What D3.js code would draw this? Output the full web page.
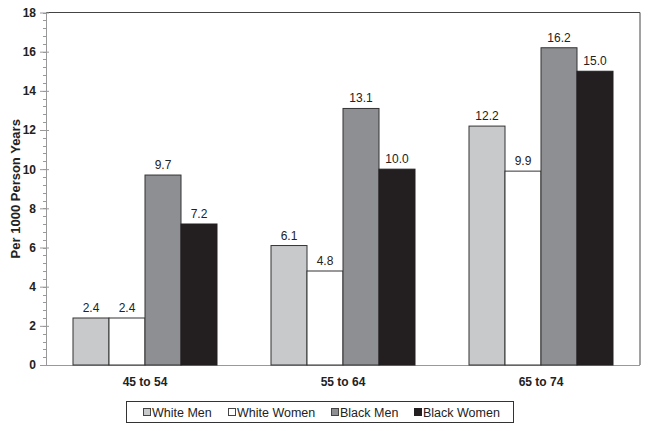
<!DOCTYPE html>
<html><head><meta charset="utf-8">
<script src="https://cdn.jsdelivr.net/npm/d3@7"></script>
<style>body{margin:0;background:#fff}svg{display:block;font-family:Arial,"Liberation Sans",sans-serif}</style>
</head><body><svg id="c" width="649" height="431"></svg>
<script>
const categories = ["45 to 54", "55 to 64", "65 to 74"];
const seriesNames = ["White Men", "White Women", "Black Men", "Black Women"];
const whiteMen = [2.4, 6.1, 12.2];
const whiteWomen = [2.4, 4.8, 9.9];
const blackMen = [9.7, 13.1, 16.2];
const blackWomen = [7.2, 10.0, 15.0];
const colors = ["#c8c9cb", "#ffffff", "#8e8f92", "#231f20"];
const yTicks = [0, 2, 4, 6, 8, 10, 12, 14, 16, 18];

const series = [whiteMen, whiteWomen, blackMen, blackWomen];
const svg = d3.select("#c");
const m = {l: 46, r: 9, t: 12.5, b: 66};
const W = 649, H = 431;
const x = d3.scaleBand().domain(categories).range([m.l, W - m.r]).paddingInner(0).paddingOuter(0);
const y = d3.scaleLinear().domain([0, 18]).range([H - m.b, m.t]);
const inner = d3.scaleBand().domain(seriesNames).range([0, x.bandwidth()]).paddingInner(0).paddingOuter(0.75);

// frame top and right
svg.append("path").attr("d", `M${m.l},${y(18)}H${W - m.r}V${y(0)}`).attr("fill","none").attr("stroke","#444").attr("stroke-width",1);

// minor ticks
const minor = d3.range(0, 18.001, 0.4);
svg.append("g").selectAll("line").data(minor).join("line")
  .attr("x1", m.l - 3).attr("x2", m.l).attr("y1", d => Math.round(y(d)) + 0.5).attr("y2", d => Math.round(y(d)) + 0.5)
  .attr("stroke", "#999");

const yAxis = svg.append("g").attr("transform", `translate(${m.l},0)`)
  .call(d3.axisLeft(y).tickValues(yTicks).tickSize(6).tickFormat(d3.format("d")));
yAxis.select(".domain").attr("stroke", "#999").attr("d", `M0.5,${y(0)}V${y(18)}`);
yAxis.selectAll(".tick line").attr("stroke", "#999").attr("x1", 3);
yAxis.selectAll(".tick text").attr("font-size", 12).attr("font-weight", "bold").attr("fill", "#222").attr("x", -10).attr("font-family", "Arial, Liberation Sans, sans-serif");

// bottom axis line
svg.append("line").attr("x1", m.l).attr("x2", W - m.r).attr("y1", y(0) + 0.5).attr("y2", y(0) + 0.5).attr("stroke", "#999");

// bars
categories.forEach((cat, ci) => {
  const g = svg.append("g").attr("transform", `translate(${x(cat)},0)`);
  seriesNames.forEach((s, si) => {
    const v = series[si][ci];
    g.append("rect").attr("x", inner(s)).attr("width", inner.bandwidth())
      .attr("y", y(v)).attr("height", y(0) - y(v))
      .attr("fill", colors[si]).attr("stroke", si === 3 ? "#231f20" : "#333").attr("stroke-width", 1);
    g.append("text").attr("x", inner(s) + inner.bandwidth() / 2).attr("y", y(v) - 6)
      .attr("text-anchor", "middle").attr("font-size", 12).attr("fill", "#222").text(v.toFixed(1));
  });
});

// x labels
svg.append("g").selectAll("text").data(categories).join("text")
  .attr("x", d => x(d) + x.bandwidth() / 2).attr("y", y(0) + 21)
  .attr("text-anchor", "middle").attr("font-size", 12).attr("font-weight", "bold").attr("fill", "#222").text(d => d);

// y label
svg.append("text").attr("transform", `translate(20,${(y(0) + y(18)) / 2}) rotate(-90)`)
  .attr("text-anchor", "middle").attr("font-size", 13).attr("font-weight", "bold").attr("fill", "#222")
  .text("Per 1000 Person Years");

// legend
const lg = svg.append("g");
lg.append("rect").attr("x", 126.5).attr("y", 401.5).attr("width", 387).attr("height", 21).attr("fill", "#fff").attr("stroke", "#333");
const lx = [143, 228, 331, 414];
seriesNames.forEach((s, i) => {
  lg.append("rect").attr("x", lx[i] + 0.5).attr("y", 408.5).attr("width", 7).attr("height", 7)
    .attr("fill", colors[i]).attr("stroke", i === 3 ? "#231f20" : "#444");
  lg.append("text").attr("x", lx[i] + 9).attr("y", 417).attr("font-size", 12.5).attr("fill", "#222").text(s);
});
</script></body></html>
